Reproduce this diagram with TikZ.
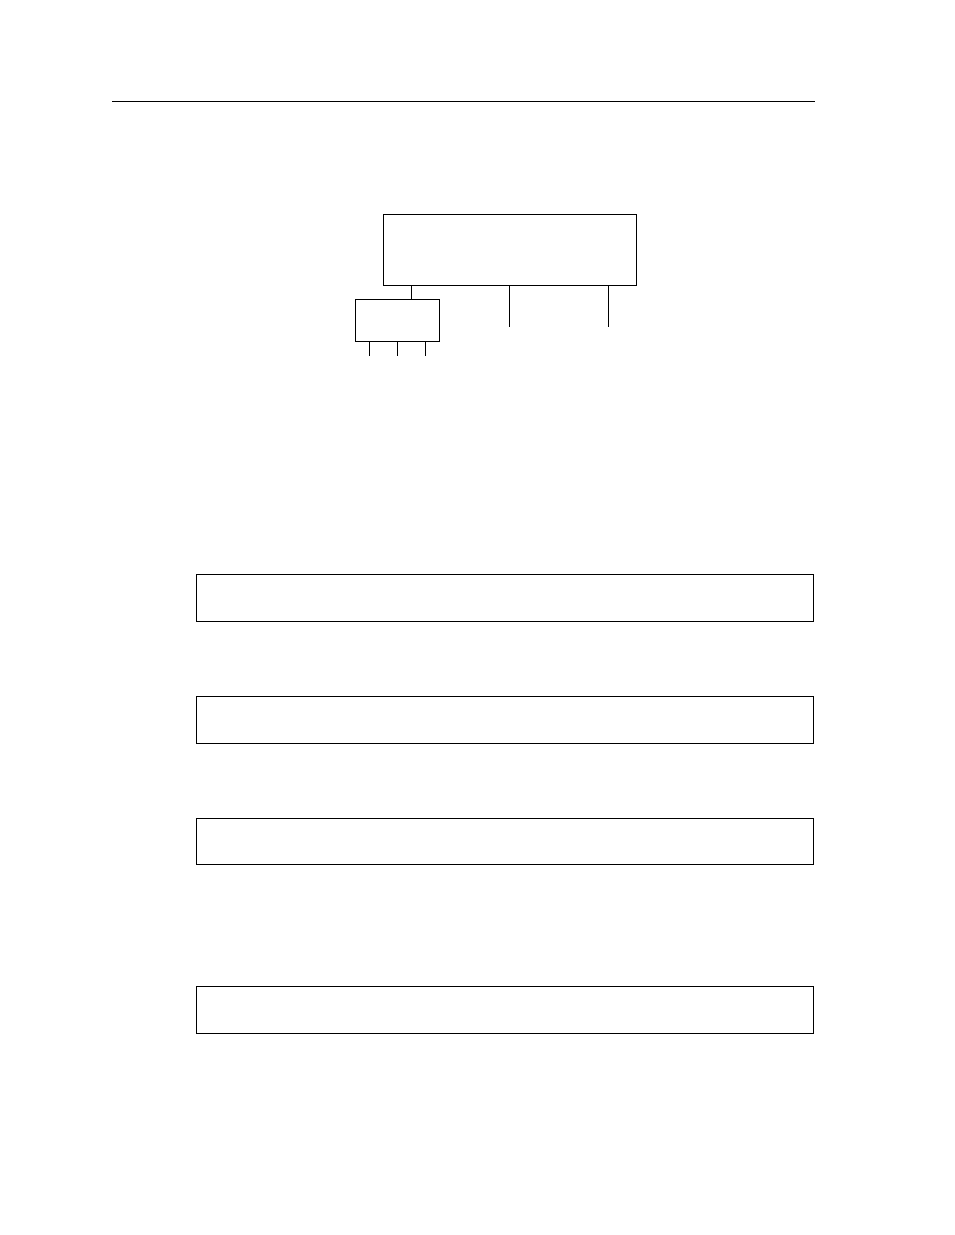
\documentclass[tikz,border=0pt]{standalone}
\usepackage{xcolor}
\usepackage{tikz}
\usetikzlibrary{positioning}

\begin{document}
\begin{tikzpicture}[
				x = 1pt, y = -1pt,
				line width = 1pt,
				box/.style = {draw, line width = 1pt, inner sep = 0pt, minimum width = #1},
				box/.default = 617pt,
				every node/.style = {anchor = center}
				]
				\useasboundingbox (0,0) rectangle (954,1235);
				\draw (112,101) -- (815,101);
				
				\node [box = 253pt, minimum height = 71pt] (host) at (509.8,249.8) {};
				\node [box = 84pt, minimum height = 42pt] (hub) at (397.3,320.3) {};
				\coordinate (tap) at (411.7,0);
				\draw (host.south -| tap) -- (hub.north -| tap);
				\coordinate (portA) at (509.3,327.3);
				\coordinate (portB) at (608.3,327.3);
				\draw (host.south -| portA) -- (portA);
				\draw (host.south -| portB) -- (portB);
				\foreach \x [count=\i] in {369.7,397.3,425.7}
					{\coordinate (leg\i) at (\x,355.7);
					 \draw (hub.south -| leg\i) -- (leg\i);}
				
				\node [box, minimum height = 47pt] (rowA) at (504.8,597.8) {};
				\node [box, minimum height = 47pt] (rowB) at (504.8,719.7) {};
				\node [box, minimum height = 46pt] (rowC) at (504.8,841.2) {};
				\node [box, minimum height = 47pt] (rowD) at (504.8,1009.8) {};
			\end{tikzpicture}
\end{document}
